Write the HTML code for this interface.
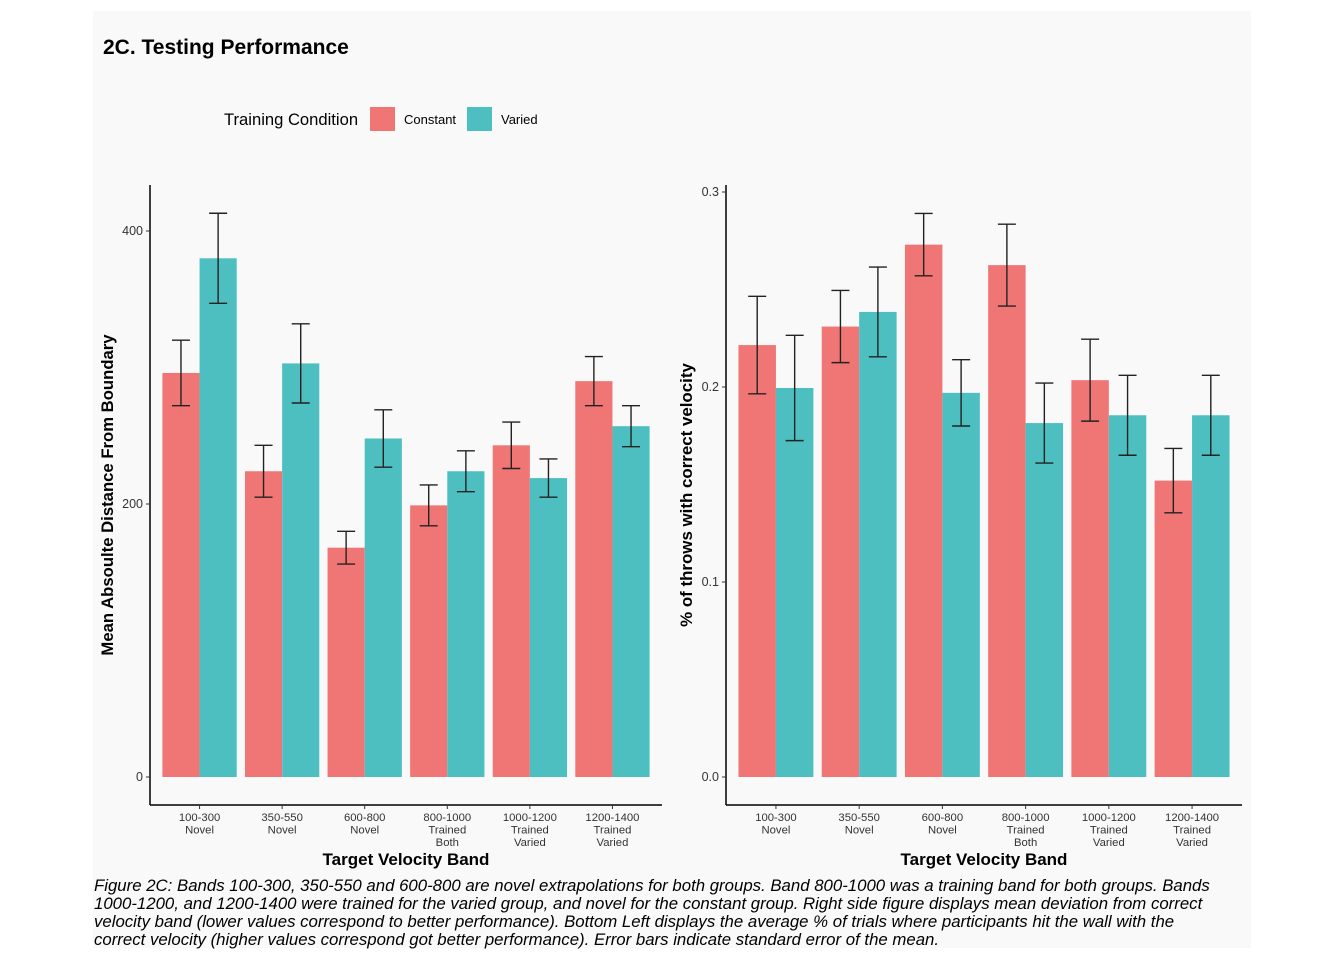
<!DOCTYPE html>
<html><head><meta charset="utf-8"><style>
body{margin:0;background:#fff;width:1344px;height:960px;overflow:hidden;font-family:"Liberation Sans",sans-serif}
svg text{font-family:"Liberation Sans",sans-serif}
</style></head><body>
<svg id="c" width="1344" height="960" xmlns="http://www.w3.org/2000/svg">
<rect x="93" y="11" width="1158" height="937" fill="#f9f9f9"/>
<text x="103" y="54" font-size="21" font-weight="bold" fill="#000">2C. Testing Performance</text>
<g>
<text x="224" y="125" font-size="16.6" fill="#000">Training Condition</text>
<rect x="370" y="107" width="25" height="24" fill="#f07675"/>
<text x="404" y="124" font-size="13">Constant</text>
<rect x="467" y="107" width="25" height="24" fill="#4dbfc1"/>
<text x="501" y="124" font-size="13">Varied</text>
</g>
<g id="left"></g>
<g id="right"></g>
<text font-size="16.8" font-style="italic" fill="#000">
<tspan x="94" y="891">Figure 2C: Bands 100-300, 350-550 and 600-800 are novel extrapolations for both groups. Band 800-1000 was a training band for both groups. Bands</tspan>
<tspan x="94" y="909">1000-1200, and 1200-1400 were trained for the varied group, and novel for the constant group. Right side figure displays mean deviation from correct</tspan>
<tspan x="94" y="927">velocity band (lower values correspond to better performance). Bottom Left displays the average % of trials where participants hit the wall with the</tspan>
<tspan x="94" y="945">correct velocity (higher values correspond got better performance). Error bars indicate standard error of the mean.</tspan>
</text>
</svg>
<script>
const categories=["100-300","350-550","600-800","800-1000","1000-1200","1200-1400"];
const sublabels=[["Novel"],["Novel"],["Novel"],["Trained","Both"],["Trained","Varied"],["Trained","Varied"]];
const leftConstant=[296,224,168,199,243,290];
const leftConstantSE=[24,19,12,15,17,18];
const leftVaried=[380,303,248,224,219,257];
const leftVariedSE=[33,29,21,15,14,15];
const leftTicks=[0,200,400];
const rightConstant=[0.2215,0.231,0.273,0.2625,0.2035,0.152];
const rightConstantSE=[0.025,0.0185,0.016,0.021,0.021,0.0165];
const rightVaried=[0.1995,0.2385,0.197,0.1815,0.1855,0.1855];
const rightVariedSE=[0.027,0.023,0.017,0.0205,0.0205,0.0205];
const rightTicks=[0.0,0.1,0.2,0.3];
const NS="http://www.w3.org/2000/svg";
function mk(p,t,a){const e=document.createElementNS(NS,t);for(const k in a)e.setAttribute(k,a[k]);p.appendChild(e);return e;}
function draw(g,o){
 const y=v=>o.y0-(v-o.vmin)/(o.vmax-o.vmin)*(o.y0-o.y1);
 const step=(o.xr-o.xl)/6.2;
 const cx=i=>o.xl+step*0.6+step*i;
 const bw=step*0.45;
 let l=mk(g,'line',{x1:o.xl,y1:185,x2:o.xl,y2:805,stroke:'#000','stroke-width':1.5});
 
 l=mk(g,'line',{x1:o.xl,y1:805,x2:o.xr,y2:805,stroke:'#000','stroke-width':1.5});
 
 o.ticks.forEach(t=>{
  const tk=mk(g,'line',{x1:o.xl-4,x2:o.xl,y1:y(t),y2:y(t),stroke:'#333'});
  
  const tx=mk(g,'text',{x:o.xl-7,y:y(t)+4,'font-size':12.5,'text-anchor':'end',fill:'#333'});
  tx.textContent=o.fmt(t);
  
 });
 categories.forEach((c,i)=>{
  const x=cx(i);
  [[o.c,o.cse,'#f07675',-1,'constant'],[o.v,o.vse,'#4dbfc1',0,'varied']].forEach(([arr,se,col,off,nm])=>{
   const bx=x+off*bw, top=y(arr[i]);
   const r=mk(g,'rect',{x:bx,y:top,width:bw,height:y(o.vmin)-top,fill:col});
   
   const m=bx+bw/2,a=y(arr[i]+se[i]),b=y(arr[i]-se[i]);
   const eg=mk(g,'g',{stroke:'#222','stroke-width':1.4});
   
   mk(eg,'line',{x1:m,x2:m,y1:a,y2:b});
   mk(eg,'line',{x1:m-9,x2:m+9,y1:a,y2:a});
   mk(eg,'line',{x1:m-9,x2:m+9,y1:b,y2:b});
  });
  const tk=mk(g,'line',{x1:x,x2:x,y1:805,y2:809,stroke:'#333'});
  
  const tx=mk(g,'text',{x:x,y:821,'font-size':11.3,'text-anchor':'middle',fill:'#333'});
  
  [c].concat(sublabels[i]).forEach((s,j)=>{const ts=mk(tx,'tspan',{x:x,dy:j?12.5:0});ts.textContent=s;});
 });
 const xt=mk(g,'text',{x:(o.xl+o.xr)/2,y:865,'font-size':17,'font-weight':'bold','text-anchor':'middle'});
 xt.textContent='Target Velocity Band';
 
 const yt=mk(g,'text',{x:0,y:0,'font-size':o.ytfs,'font-weight':'bold','text-anchor':'middle',transform:`translate(${o.ytx},495) rotate(-90)`});
 yt.textContent=o.ytitle;
 
}
draw(document.getElementById('left'),{xl:150,xr:662,y0:777,y1:231,vmin:0,vmax:400,ticks:leftTicks,fmt:t=>String(t),c:leftConstant,cse:leftConstantSE,v:leftVaried,vse:leftVariedSE,ytx:113,ytfs:16.7,ytitle:'Mean Absoulte Distance From Boundary'});
draw(document.getElementById('right'),{xl:726,xr:1242,y0:777,y1:192,vmin:0,vmax:0.3,ticks:rightTicks,fmt:t=>t.toFixed(1),c:rightConstant,cse:rightConstantSE,v:rightVaried,vse:rightVariedSE,ytx:692,ytfs:16.9,ytitle:'% of throws with correct velocity'});
</script>
</body></html>
